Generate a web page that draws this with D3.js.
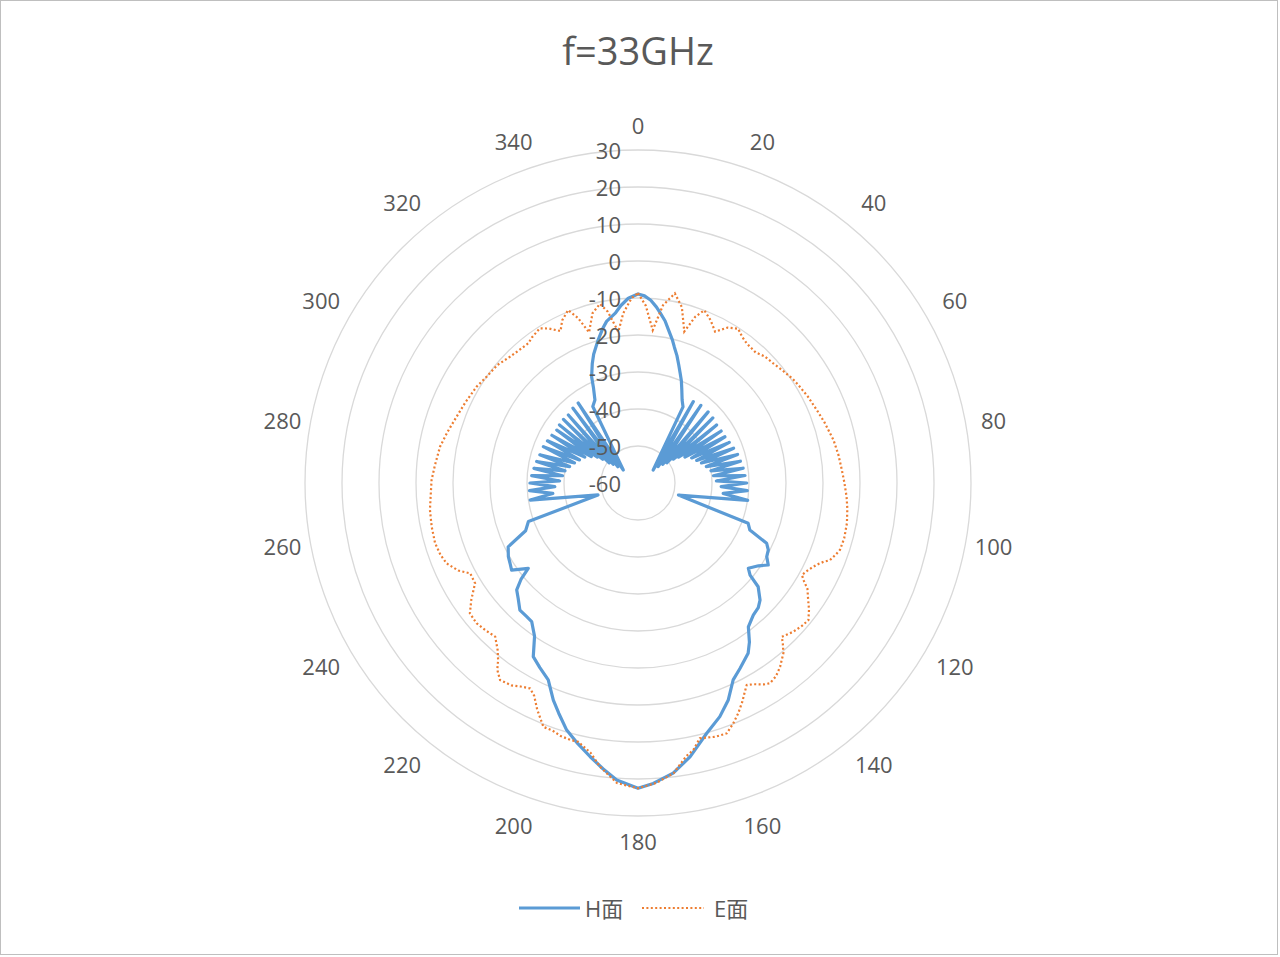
<!DOCTYPE html>
<html>
<head>
<meta charset="utf-8">
<script src="https://cdn.jsdelivr.net/npm/d3@7"></script>
<style>
  html, body { margin: 0; padding: 0; background: #fff; }
  svg { display: block; }
  text { font-family: "Open Sans", "Noto Sans CJK SC", sans-serif; fill: #595959; }
</style>
</head>
<body>
<svg id="chart" width="1280" height="957"></svg>
<script>
// chart text
const chartTitle = 'f=33GHz';
const seriesNames = ['H面', 'E面'];
const angleTicks = [0, 20, 40, 60, 80, 100, 120, 140, 160, 180, 200, 220, 240, 260, 280, 300, 320, 340];
const radialTicks = [-60, -50, -40, -30, -20, -10, 0, 10, 20, 30];

// H面 (points in drawing order)
const hAngle = [
  0, 2, 4, 6, 7.5, 9.5, 11, 13.5, 15, 17, 19, 21, 23, 25, 28, 30.6,
  49.6, 34.2, 51, 39, 53, 44.6, 55, 49, 56, 53.6, 57.5, 58, 61, 62, 65, 66,
  69, 70, 72.5, 74, 76.5, 78, 80.5, 82, 84.5, 86, 88.5, 90, 92.5, 94, 97, 99,
  106.6, 110.1, 112.8, 115.1, 117.2, 119.8, 122.2, 124.5, 127.7, 129.4, 130.8,
  133.8, 136, 138.9, 142.5, 145, 147.1, 151.2, 154.2, 157.4, 160.7, 164.7,
  169.2, 173.1, 177.1, 180, 184.1, 187, 189.9, 193, 196.1, 199, 201.3, 204.5,
  208, 211.1, 214, 217.5, 220, 222.9, 226, 228.6, 230.5, 232.1, 235.4, 238,
  240.4, 243.8, 247, 250.6, 253.4,
  261, 263, 266, 267.5, 270, 271.5, 274, 275.5, 278, 279.5, 282, 283.5, 286,
  287.5, 291, 291.5, 295, 296, 299, 299.5, 303.1, 302.5, 306.5, 304, 310.5,
  305, 314.3, 307, 319, 309, 323.2, 311.5,
  329.4, 332.6, 335, 336.4, 339, 341, 344.4, 347, 349, 352.5, 354.5, 357
];
const hValue = [
  -8.9, -9.4, -10.5, -12.2, -13.7, -15.6, -17.5, -20.2, -22, -24, -26.2, -28.2, -30, -32, -34.6, -36.1,
  -54.6, -33.4, -53, -33, -51.6, -33, -50.5, -33.2, -48.5, -33.6, -47, -33.5, -45.5, -33.4, -44, -33,
  -43, -32.5, -42, -32, -41, -31.7, -40, -31.3, -39.5, -31, -38.8, -30.6, -37.5, -30.4, -36.8, -30,
  -48.6, -28.3, -27.2, -21.6, -20.4, -19.9, -18.4, -20.5, -22.3, -20.8, -17.1,
  -14.3, -13.2, -12.6, -11, -7.5, -5.2, -2.8, -0.9, 3.5, 6.9, 10.2,
  15.3, 19.0, 21.3, 22.5, 20.5, 17.8, 15.1, 12.3, 9.5, 5.8, 3.0, -1.5,
  -3.5, -5.2, -10, -12.8, -13, -13.1, -15, -16.3, -19, -22.4, -18.5, -19.2,
  -19.7, -20.9, -27, -28.6, -48.7,
  -30.5, -36.8, -30.6, -37.5, -30.8, -38.8, -31.2, -39.5, -31.6, -40, -32, -41, -32.4,
  -42, -32.6, -43, -33, -44, -33.4, -45.5, -33.8, -47, -33.6, -48.5, -33.5,
  -50.5, -33.7, -51.6, -33.2, -53, -33, -54.7,
  -36, -34.7, -31.5, -28.7, -25.5, -23.2, -19.9, -17.3, -15.5, -13.6, -11.8, -10
];

// E面
const eAngle = [
  0, 2.5, 5.5, 8, 11, 14, 17, 19, 21, 24, 27, 30, 33, 35.5, 38, 42, 45, 48.5,
  52, 56, 58.6, 63, 67.8, 72, 77.6, 82, 86.3, 90, 93.8, 97, 100.9, 105, 108.3,
  110, 111.9, 113, 114.6, 117, 119.3, 120.5, 122, 124.5, 126.5, 128.8, 131,
  133.8, 136.9, 138, 139.5, 140.9, 142.3, 144.5, 146.6, 148, 150, 151.7, 153,
  154.5, 156.5, 158.5, 160.5, 163, 166.4, 168.3, 170, 173, 176.5, 180, 184,
  187.6, 190, 193, 194.8, 197, 199, 201.2, 204, 206, 207.7, 210, 212, 215, 217,
  218.3, 220, 222.9, 226, 229, 232.2, 235, 238.4, 241.7, 244, 247.2, 250, 253.5,
  258, 262.6, 266, 270.8, 275, 280.4, 285, 290.1, 295, 300.8, 305, 310, 314.6,
  318, 321.9, 324, 327.6, 330, 333, 335, 338, 340, 342, 345, 348, 350, 352.6,
  355, 358
];
const eValue = [
  -8.7, -12, -18.5, -11.5, -7.8, -11, -17.2, -12.5, -10, -11.8, -14.1, -11.5, -10.3, -11.5, -12.2, -12.5, -11.6, -11.2,
  -10.5, -9.6, -9.2, -8.5, -7.8, -7, -5.9, -5.3, -4.8, -4.2, -3.5, -3, -2.5, -2.3, -2.5,
  -3.2, -4.1, -5.5, -6.9, -8.3, -9.2, -8, -6, -4.2, -2.5, -0.9, -1.2,
  -1.9, -3.1, -1.5, 0.5, 1.6, 2.8, 4.2, 4.8, 4.2, 2.8, 2.0, 3.5,
  5.5, 7.9, 10, 11.8, 11.7, 11.0, 13.7, 15, 19, 21.2, 22.5, 21.3,
  17.4, 14, 11.8, 11.8, 11.5, 10.8, 10.7, 7, 4, 2.7, 3.5, 4.5, 5.0, 3.2,
  1.0, -1, -3.3, -2.7, -2.2, -2.5, -5, -8.3, -8.5, -6, -3.9, -3.2, -2.8,
  -3, -3.3, -3.8, -4.2, -4.9, -5.6, -6.7, -7.8, -8.5, -9.2, -10, -10.4, -11.4,
  -11.8, -12, -11.3, -10.5, -11.8, -13.9, -11.5, -9.6, -12.5, -17.2, -12.5, -10.5, -13, -18.8,
  -14, -10
];

const svg = d3.select('#chart');
const width = 1280;
const height = 957;
const cx = 638;
const cy = 483;
const outerRadius = 333;

svg.append('rect')
  .attr('x', 0.5).attr('y', 0.5)
  .attr('width', width - 3).attr('height', height - 3)
  .attr('fill', '#fff').attr('stroke', '#bfbfbf');

const r = d3.scaleLinear().domain([-60, 30]).range([0, outerRadius]);
const a = d3.scaleLinear().domain([0, 360]).range([0, 2 * Math.PI]);

const g = svg.append('g').attr('transform', `translate(${cx},${cy})`);

// circular gridlines
g.append('g')
  .selectAll('circle')
  .data(radialTicks.filter((v) => v > -60))
  .join('circle')
  .attr('r', (v) => r(v))
  .attr('fill', 'none')
  .attr('stroke', '#d9d9d9')
  .attr('stroke-width', 1.3);

const toPoints = (angles, values) => angles.map((angle, i) => ({ angle, value: values[i] }));

const line = d3.lineRadial()
  .angle((d) => a(d.angle))
  .radius((d) => r(d.value))
  .curve(d3.curveLinearClosed);

g.append('path')
  .datum(toPoints(hAngle, hValue))
  .attr('d', line)
  .attr('fill', 'none')
  .attr('stroke', '#5b9bd5')
  .attr('stroke-width', 3.2)
  .attr('stroke-linejoin', 'round');

g.append('path')
  .datum(toPoints(eAngle, eValue))
  .attr('d', line)
  .attr('fill', 'none')
  .attr('stroke', '#ed7d31')
  .attr('stroke-width', 2.2)
  .attr('stroke-dasharray', '2,2.4');

// radial value labels
g.append('g')
  .selectAll('text')
  .data(radialTicks)
  .join('text')
  .attr('x', -17)
  .attr('y', (v) => -r(v))
  .attr('text-anchor', 'end')
  .attr('dominant-baseline', 'central')
  .attr('font-size', 22)
  .text((v) => v);

// angle labels, a little further out on the diagonals
const labelRadius = (d) => 358 + 9 * Math.abs(Math.sin(2 * a(d)));
g.append('g')
  .selectAll('text')
  .data(angleTicks)
  .join('text')
  .attr('x', (d) => labelRadius(d) * Math.sin(a(d)))
  .attr('y', (d) => -labelRadius(d) * Math.cos(a(d)))
  .attr('text-anchor', 'middle')
  .attr('dominant-baseline', 'central')
  .attr('font-size', 22)
  .text((d) => d);

// title
svg.append('text')
  .attr('x', cx)
  .attr('y', 65)
  .attr('text-anchor', 'middle')
  .attr('font-size', 38)
  .text(chartTitle);

// legend
const legend = svg.append('g').attr('transform', 'translate(519,908)');
legend.append('line')
  .attr('x1', 0).attr('x2', 61).attr('y1', 0).attr('y2', 0)
  .attr('stroke', '#5b9bd5').attr('stroke-width', 3.2);
legend.append('text')
  .attr('x', 66).attr('y', 0)
  .attr('dominant-baseline', 'central')
  .attr('font-size', 22)
  .text(seriesNames[0]);
legend.append('line')
  .attr('x1', 123).attr('x2', 185).attr('y1', 0).attr('y2', 0)
  .attr('stroke', '#ed7d31').attr('stroke-width', 2.2)
  .attr('stroke-dasharray', '2,2.4');
legend.append('text')
  .attr('x', 195).attr('y', 0)
  .attr('dominant-baseline', 'central')
  .attr('font-size', 22)
  .text(seriesNames[1]);
</script>
</body>
</html>
